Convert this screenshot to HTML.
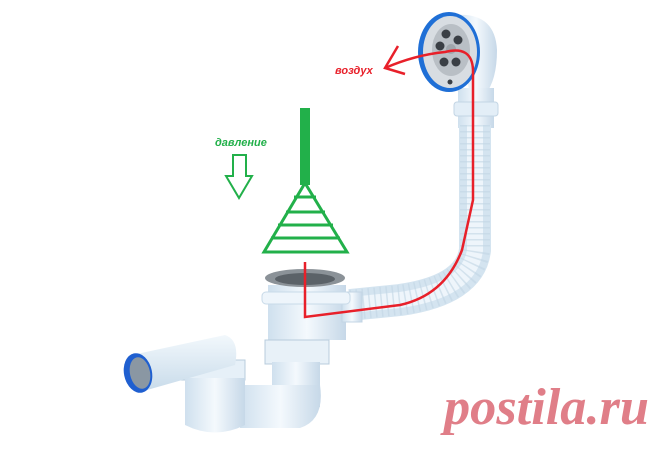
<!DOCTYPE html>
<html><head><meta charset="utf-8"><style>
html,body{margin:0;padding:0;background:#fff;}
svg{display:block}
</style></head><body>
<svg width="660" height="451" viewBox="0 0 660 451" xmlns="http://www.w3.org/2000/svg">
<defs>
<linearGradient id="pg" x1="0" x2="1" y1="0" y2="0">
<stop offset="0" stop-color="#cfe0ee"/><stop offset="0.5" stop-color="#f4f9fd"/><stop offset="1" stop-color="#c6d8e8"/>
</linearGradient>
<linearGradient id="pv" x1="0" x2="0" y1="0" y2="1">
<stop offset="0" stop-color="#f2f8fc"/><stop offset="1" stop-color="#c8dbea"/>
</linearGradient>
</defs>
<!-- overflow head -->
<path d="M455 15 Q495 12 497 50 Q497 80 485 95 L470 95 Z" fill="url(#pg)"/>
<rect x="458" y="88" width="36" height="40" fill="url(#pg)"/>
<rect x="454" y="102" width="44" height="14" rx="3" fill="#e3eef7" stroke="#c3d5e4"/>
<!-- hose -->
<path d="M475 125 L475 250 Q470 290 400 300 L350 305" fill="none" stroke="#d4e4f0" stroke-width="32"/>
<path d="M475 125 L475 250 Q470 290 400 300 L350 305" fill="none" stroke="#eef5fb" stroke-width="16"/>
<path d="M475 125 L475 250 Q470 290 400 300 L350 305" fill="none" stroke="#c2d5e5" stroke-width="30" stroke-dasharray="1.5 4.5" opacity="0.6"/>
<ellipse cx="449" cy="52" rx="31" ry="40" fill="#1f6fd6"/>
<ellipse cx="450" cy="52" rx="27" ry="36" fill="#d8dde2"/>
<ellipse cx="451" cy="50" rx="19" ry="26" fill="#b9bfc5"/>
<g fill="#3a3f45">
<circle cx="446" cy="34" r="4.5"/><circle cx="458" cy="40" r="4.5"/><circle cx="440" cy="46" r="4.5"/>
<circle cx="444" cy="62" r="4.5"/><circle cx="456" cy="62" r="4.5"/><circle cx="450" cy="82" r="2.5"/>
</g>
<circle cx="451" cy="49" r="5" fill="#a0a6ac"/>
<!-- drain -->
<rect x="268" y="285" width="78" height="55" fill="url(#pg)"/>
<rect x="342" y="292" width="20" height="30" fill="url(#pg)" stroke="#c3d5e4"/>
<rect x="262" y="292" width="88" height="12" rx="4" fill="#eef5fb" stroke="#c8dae8"/>
<rect x="265" y="340" width="64" height="24" fill="#e8f1f8" stroke="#b8ccdc"/>
<rect x="272" y="362" width="48" height="45" fill="url(#pg)"/>
<path d="M240 385 L320 385 Q325 420 300 428 L240 428 Z" fill="url(#pg)"/>
<rect x="180" y="360" width="65" height="20" fill="#e6f0f8" stroke="#b8ccdc"/>
<path d="M185 378 L245 378 L245 425 Q215 440 185 425 Z" fill="url(#pg)"/>
<path d="M132 355 L225 335 Q240 340 235 365 L140 392 Z" fill="url(#pv)"/>
<ellipse cx="138" cy="373" rx="14" ry="20" fill="#1f5fd0" transform="rotate(-12 138 373)"/>
<ellipse cx="140" cy="373" rx="10" ry="16" fill="#8a97a3" transform="rotate(-12 140 373)"/>
<ellipse cx="305" cy="278" rx="40" ry="9" fill="#8b9298"/>
<ellipse cx="305" cy="279" rx="30" ry="6" fill="#5b6268"/>
<!-- green -->
<rect x="300" y="108" width="10" height="77" fill="#22b04a"/>
<g fill="none" stroke="#22b04a" stroke-width="3">
<path d="M305 183 L264 252 L347 252 Z"/>
<line x1="294" y1="197" x2="316" y2="197"/>
<line x1="286" y1="212" x2="325" y2="212"/>
<line x1="278" y1="225" x2="333" y2="225"/>
<line x1="271" y1="238" x2="340" y2="238"/>
<path d="M233 155 L246 155 L246 176 L252 176 L239 198 L226 176 L233 176 Z" stroke-width="2"/>
</g>
<text x="215" y="146" font-family="Liberation Sans, sans-serif" font-style="italic" font-weight="bold" font-size="11" fill="#22b04a">давление</text>
<!-- red -->
<g fill="none" stroke="#e8202a" stroke-width="2.5">
<path d="M305 262 L305 317 L400 305 Q445 295 462 250 L473 200 L473 70 Q472 45 445 52 Q415 55 385 68"/>
<path d="M398 46 L385 68 L405 74"/>
</g>
<text x="335" y="74" font-family="Liberation Sans, sans-serif" font-style="italic" font-weight="bold" font-size="11" fill="#e8202a">воздух</text>
<text x="444" y="424" font-family="Liberation Serif, serif" font-style="italic" font-weight="bold" font-size="52" fill="#e07e88" textLength="205" lengthAdjust="spacingAndGlyphs">postila.ru</text>
</svg>
</body></html>
